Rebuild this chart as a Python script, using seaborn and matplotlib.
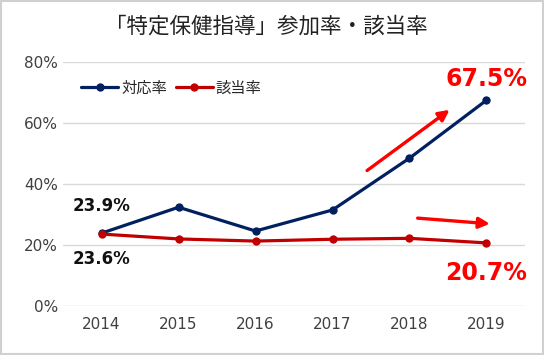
import pandas as pd
import seaborn as sns
import matplotlib.pyplot as plt
from matplotlib.patches import Rectangle
from matplotlib.ticker import PercentFormatter

sns.set_theme(style="white")
plt.rcParams['font.family'] = ['Noto Sans CJK JP', 'DejaVu Sans']

# --- data ---
years = ['2014', '2015', '2016', '2017', '2018', '2019']
taiou = [23.9, 32.4, 24.6, 31.5, 48.5, 67.5]     # 対応率
gaitou = [23.6, 22.0, 21.3, 21.9, 22.2, 20.7]    # 該当率
series_names = ['対応率', '該当率']
title = '「特定保健指導」参加率・該当率'

df = pd.DataFrame({
    'year': years * 2,
    'rate': taiou + gaitou,
    'series': [series_names[0]] * len(years) + [series_names[1]] * len(years),
})

fig = plt.figure(figsize=(5.44, 3.55), dpi=100)
ax = fig.add_axes([0.116, 0.138, 0.849, 0.687])

sns.lineplot(data=df, x='year', y='rate', hue='series', ax=ax,
             palette=['#002060', '#C00000'], marker='o', markersize=6,
             markeredgewidth=0, linewidth=2.3, sort=False)

ax.set_ylim(0, 80)
ax.set_xlim(-0.5, len(years) - 0.5)
ax.set_yticks([0, 20, 40, 60, 80])
ax.yaxis.set_major_formatter(PercentFormatter(decimals=0))
ax.grid(axis='y', color='#d9d9d9', linewidth=1)
ax.set_axisbelow(True)
for s in ax.spines.values():
    s.set_visible(False)
ax.set_xlabel('')
ax.set_ylabel('')
ax.tick_params(axis='both', labelsize=11, labelcolor='#404040', length=0)
ax.tick_params(axis='x', pad=8)
for lab in ax.get_xticklabels() + ax.get_yticklabels():
    lab.set_fontfamily('DejaVu Sans')

leg = ax.legend(loc='upper left', bbox_to_anchor=(0.01, 0.985), ncol=2, frameon=False,
                fontsize=11, handlelength=2.4, handletextpad=0.2, columnspacing=0.6)

# value labels
num_font = dict(family='DejaVu Sans', fontweight='bold')
ax.text(0, taiou[0] + 8.8, f'{taiou[0]}%', ha='center', va='center', fontsize=12, color='#111111', **num_font)
ax.text(0, gaitou[0] - 8.2, f'{gaitou[0]}%', ha='center', va='center', fontsize=12, color='#111111', **num_font)
ax.text(5, taiou[5] + 7.0, f'{taiou[5]}%', ha='center', va='center', fontsize=17, color='#FF0000', **num_font)
ax.text(5, gaitou[5] - 10.0, f'{gaitou[5]}%', ha='center', va='center', fontsize=17, color='#FF0000', **num_font)

# trend arrows
arrow = dict(arrowstyle='-|>', color='#FF0000', lw=2.4, mutation_scale=16)
ax.annotate('', xy=(4.55, 64.9), xytext=(3.42, 43.9), arrowprops=arrow)
ax.annotate('', xy=(5.08, 26.9), xytext=(4.07, 28.9), arrowprops=arrow)

fig.text(0.49, 0.925, title, ha='center', va='center', fontsize=15.5, color='#222222')
fig.patches.append(Rectangle((0.002, 0.003), 0.996, 0.994, transform=fig.transFigure,
                             fill=False, edgecolor='#d0d0d0', linewidth=1.5))

fig.savefig('out.png', dpi=100)
